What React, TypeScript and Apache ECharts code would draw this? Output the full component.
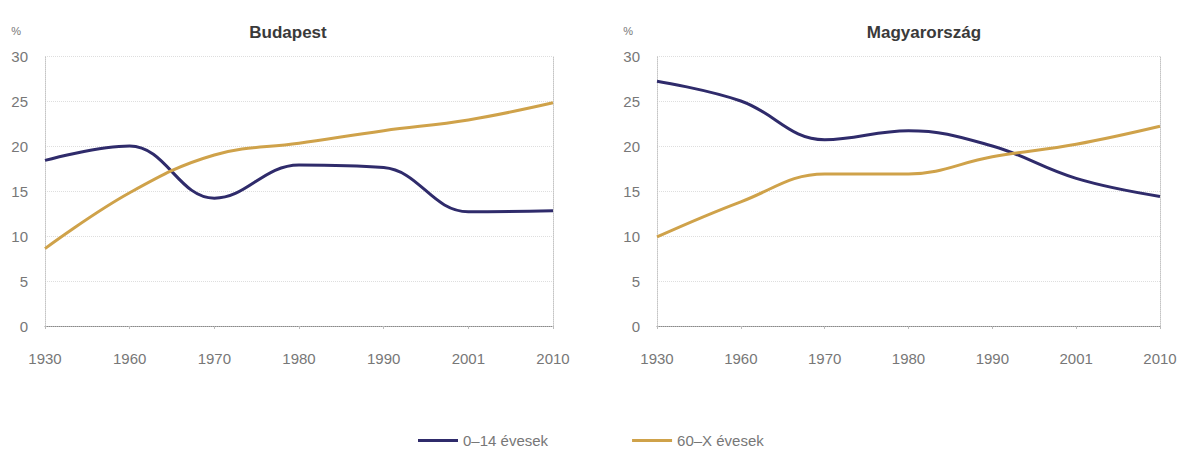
import React, { useEffect, useRef } from "react";
import * as echarts from "echarts";

const years = ["1930", "1960", "1970", "1980", "1990", "2001", "2010"];
const budapestYoung = [18.4, 20.0, 14.2, 17.9, 17.6, 12.7, 12.8];
const budapestOld = [8.6, 14.8, 19.0, 20.3, 21.7, 22.9, 24.8];
const hungaryYoung = [27.2, 25.0, 20.7, 21.7, 20.0, 16.4, 14.4];
const hungaryOld = [9.9, 13.8, 16.9, 16.9, 18.8, 20.2, 22.2];
const panelTitles = ["Budapest", "Magyarország"];
const seriesNames = ["0–14 évesek", "60–X évesek"];

const NAVY = "#2f2b6b";
const GOLD = "#cfa24a";
const FONT = "Liberation Sans, Arial, sans-serif";

export default function App() {
  const ref = useRef<HTMLDivElement>(null);

  useEffect(() => {
    if (!ref.current) return;
    const chart = echarts.init(ref.current, null, { renderer: "svg" });

    const grids = [
      { left: 45, right: 629, top: 56, bottom: 127 },
      { left: 657, right: 22, top: 56, bottom: 127 },
    ];

    const xAxes = grids.map((_, i) => ({
      type: "category" as const,
      gridIndex: i,
      data: years,
      boundaryGap: false,
      axisLine: { show: true, lineStyle: { color: "#8a8a8a", type: "dotted" as const, width: 1 } },
      axisTick: { show: true, length: 3, lineStyle: { color: "#bbb" } },
      axisLabel: { color: "#777", fontFamily: FONT, fontSize: 15, margin: 25 },
      splitLine: { show: false },
    }));

    const yAxes: any[] = [];
    grids.forEach((_, i) => {
      yAxes.push({
        type: "value",
        gridIndex: i,
        min: 0,
        max: 30,
        interval: 5,
        name: "%",
        nameLocation: "end",
        nameGap: 20,
        nameTextStyle: { color: "#777", fontFamily: FONT, fontSize: 11, align: "right", padding: [0, 24, 0, 0] },
        axisLine: { show: true, lineStyle: { color: "#c4c4c4", type: "dotted" } },
        axisTick: { show: false },
        axisLabel: { color: "#777", fontFamily: FONT, fontSize: 15, margin: 17 },
        splitLine: { show: true, lineStyle: { color: "#dedede", type: "dotted" } },
      });
      // right-hand frame of each panel
      yAxes.push({
        type: "value",
        gridIndex: i,
        position: "right",
        min: 0,
        max: 30,
        interval: 5,
        axisLine: { show: true, lineStyle: { color: "#c4c4c4", type: "dotted" } },
        axisTick: { show: false },
        axisLabel: { show: false },
        splitLine: { show: false },
      });
    });

    const line = (name: string, data: number[], color: string, axis: number) => ({
      name,
      type: "line" as const,
      xAxisIndex: axis,
      yAxisIndex: axis * 2,
      data,
      smooth: 0.4,
      showSymbol: false,
      lineStyle: { color, width: 3 },
      itemStyle: { color },
    });

    const titleStyle = { color: "#3a3a3a", fontFamily: FONT, fontSize: 17, fontWeight: "bold" as const };

    chart.setOption({
      animation: false,
      backgroundColor: "#fff",
      title: [
        { text: panelTitles[0], left: 283, top: 19, textAlign: "center", textStyle: titleStyle },
        { text: panelTitles[1], left: 919, top: 19, textAlign: "center", textStyle: titleStyle },
      ],
      legend: {
        data: seriesNames,
        left: 413,
        top: 428,
        itemGap: 84,
        itemWidth: 40,
        itemHeight: 3,
        icon: "rect",
        textStyle: { color: "#777", fontFamily: FONT, fontSize: 15 },
      },
      grid: grids,
      xAxis: xAxes,
      yAxis: yAxes,
      series: [
        line(seriesNames[0], budapestYoung, NAVY, 0),
        line(seriesNames[1], budapestOld, GOLD, 0),
        line(seriesNames[0], hungaryYoung, NAVY, 1),
        line(seriesNames[1], hungaryOld, GOLD, 1),
      ],
    });

    return () => chart.dispose();
  }, []);

  return (
    <div
      ref={ref}
      style={{ position: "fixed", left: 0, top: 0, width: 1182, height: 453, background: "#fff" }}
    />
  );
}
